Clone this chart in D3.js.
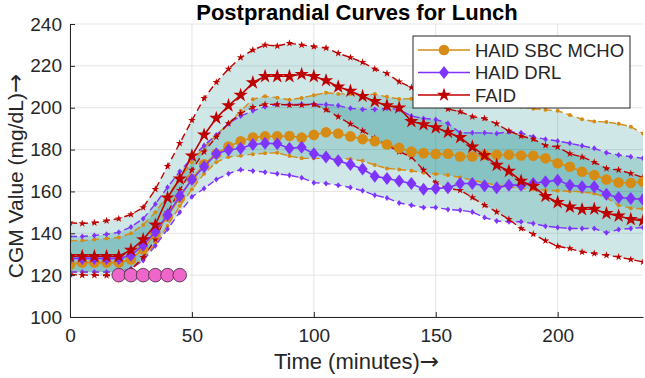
<!doctype html>
<html>
  <head>
    <script src="https://d3js.org/d3.v7.min.js"></script>
    <style>
      body { margin: 0; background: #fff; }
    </style>
  </head>
  <body>
    <script>
// time points (minutes)
var times = [0, 5, 10, 15, 20, 25, 30, 35, 40, 45, 50, 55, 60, 65, 70, 75, 80, 85, 90, 95,
  100, 105, 110, 115, 120, 125, 130, 135, 140, 145, 150, 155, 160, 165, 170, 175, 180, 185, 190, 195,
  200, 205, 210, 215, 220, 225, 230, 235];

// HAID SBC MCHO
var sbcMean = [125, 126, 126, 126, 126, 127.5, 132.5, 140, 148, 157, 166, 173, 178, 181.5, 184, 185.8, 186.3, 186.4, 186.5, 185.7,
  187, 188.3, 187.7, 186.3, 185, 184, 182.4, 180.8, 179, 178.3, 177.9, 178, 176.7, 176.7, 177.4, 177.5, 177.5, 177.2, 177, 175.8,
  173.5, 171.8, 169.4, 167.8, 165.7, 164.3, 164, 164.6];
var sbcUpper = [136.5, 136.5, 137, 137.5, 138, 140, 144, 150, 158, 166, 174, 181, 187, 192.5, 198.5, 204, 205.5, 204.8, 203.8, 204.7,
  206, 207.2, 206.6, 206.6, 206, 206.5, 205.2, 204.2, 204.3, 204.5, 204.5, 204.8, 205, 205, 204, 203, 202, 200.5, 199.5, 199,
  198.5, 196.5, 194.5, 193.4, 193.2, 192.3, 190.9, 187.7];
var sbcLower = [121.5, 121.5, 121.5, 121.5, 121.5, 123, 128, 135, 143.5, 153, 161, 168.5, 174, 176.5, 177, 177.8, 178.2, 178.5, 176.9, 175.8,
  175.8, 175.8, 175.8, 175.5, 174.6, 172.6, 171, 170.5, 169.9, 168.9, 168.3, 167.8, 166.7, 165.4, 164.1, 163, 162.2, 161.4, 161, 160.6,
  160.3, 160.1, 159.8, 159, 157, 153.4, 152, 151.7];

// HAID DRL
var drlMean = [128, 128, 128, 128, 128, 129.5, 134.3, 140.7, 148.7, 157.8, 165.7, 171.8, 178, 179.8, 180.6, 182.4, 183, 182.8, 180.6, 181.1,
  178, 176.4, 174.6, 172.9, 170.7, 167.3, 166.2, 165, 163.8, 161.1, 161.4, 161.8, 163.8, 163.8, 162.7, 161.7, 163, 163, 163.8, 164.6,
  165.4, 163, 162.2, 162.2, 158.7, 157.1, 156.6, 156.2];
var drlUpper = [138.5, 138.5, 139, 139.5, 140.5, 143, 147, 154, 162, 169.5, 176, 182, 187, 192.5, 196, 198.5, 200.5, 201.5, 201.5, 201.6,
  201.6, 201.5, 201, 199.7, 199.2, 199.2, 199.7, 199.2, 196, 194.9, 194.4, 192.5, 188, 188, 188, 187.7, 188.5, 188, 186.1, 184.9,
  184.1, 183, 181.8, 180.6, 178.5, 177.4, 176.6, 175.8];
var drlLower = [121.5, 121.5, 121.5, 121.5, 121.5, 123, 127, 134, 142, 150, 157.4, 161.4, 165.7, 168.5, 170.4, 169.8, 169.2, 168.4, 167.7, 166.5,
  164.2, 163.8, 163, 161.9, 160.3, 158.2, 156.9, 154.5, 153.4, 152.3, 152.3, 151.4, 151, 150.2, 147.5, 145.9, 145.5, 145.5, 144.7, 143.4,
  142.8, 142.3, 142.3, 142.3, 140.2, 141.8, 142.3, 142.8];

// FAID
var faidMean = [129, 129, 129, 129, 129, 132, 137, 144, 157, 166, 177, 187, 195, 201, 206, 212, 215, 215, 215, 216,
  215, 213, 210, 208, 205.5, 203, 201, 200, 193.5, 192, 190.5, 188.3, 185.8, 181.3, 177.2, 172.6, 169.7, 165, 162.5, 157.7,
  154.8, 152.6, 151.4, 151.6, 149.5, 148.3, 146.7, 146];
var faidUpper = [145, 144.7, 145, 146, 147, 149, 152.3, 161, 172, 183, 194, 204.5, 212.2, 218.5, 224, 227.6, 230, 229.5, 230.8, 230,
  229.2, 228.5, 226, 224, 221.7, 218.5, 216.4, 212.4, 209.7, 205.3, 201.8, 199.4, 198.1, 195.7, 194.9, 192.3, 188.9, 186.5, 185, 182,
  181.3, 178, 176.5, 174, 171, 170.2, 168.6, 166.7];
var faidLower = [120.3, 120, 120, 119.8, 120, 122.5, 128.5, 137, 150, 160.6, 170.2, 179, 186, 192.5, 197.3, 200.2, 201.6, 201.6, 201.3, 201.3,
  201.6, 199, 195.7, 192.2, 189, 185.4, 182.2, 179, 176.5, 170.2, 164.1, 161.4, 160.6, 157.1, 153.4, 150.2, 146.7, 142.3, 139.6, 136.4,
  133.8, 132.7, 131.1, 130.3, 129.5, 128.7, 127.5, 126.3];

// meal intake markers
var mealTimes = [20, 25, 30, 35, 40, 45];
var mealValue = 120;

var xTicks = [0, 50, 100, 150, 200];
var yTicks = [100, 120, 140, 160, 180, 200, 220, 240];
var seriesNames = ["HAID SBC MCHO", "HAID DRL", "FAID"];

    var width = 645;
    var height = 378;
    var margin = {top: 24, right: 2, bottom: 61, left: 70};
    var innerWidth = width - margin.left - margin.right;
    var innerHeight = height - margin.top - margin.bottom;
    var font = "Liberation Sans, Arial, sans-serif";
    var ink = "#262626";

    var svg = d3.select("body")
              .append("svg")
              .attr("width", width)
              .attr("height", height);

    var g = svg.append("g")
              .attr("transform", "translate(" + margin.left + "," + margin.top + ")");

    var xScale = d3.scaleLinear().domain([0, 235]).range([0, innerWidth]);
    var yScale = d3.scaleLinear().domain([100, 240]).range([innerHeight, 0]);

    svg.append("defs").append("clipPath").attr("id", "plotclip")
      .append("rect").attr("width", innerWidth).attr("height", innerHeight);

//grid
    g.selectAll(".xgrid").data(xTicks).enter().append("line")
      .attr("x1", function(d) {return xScale(d);}).attr("x2", function(d) {return xScale(d);})
      .attr("y1", 0).attr("y2", innerHeight)
      .attr("stroke", "#dedede").attr("stroke-width", 0.8);
    g.selectAll(".ygrid").data(yTicks).enter().append("line")
      .attr("x1", 0).attr("x2", innerWidth)
      .attr("y1", function(d) {return yScale(d);}).attr("y2", function(d) {return yScale(d);})
      .attr("stroke", "#dedede").attr("stroke-width", 0.8);

    var series = [
      {name: seriesNames[0], mean: sbcMean, upper: sbcUpper, lower: sbcLower, color: "#d68c14", marker: "circle"},
      {name: seriesNames[1], mean: drlMean, upper: drlUpper, lower: drlLower, color: "#7f33ff", marker: "diamond"},
      {name: seriesNames[2], mean: faidMean, upper: faidUpper, lower: faidLower, color: "#bf0000", marker: "star"}
    ];

//shaded bands
    var plot = g.append("g").attr("clip-path", "url(#plotclip)");

    var area = d3.area()
                .x(function(d, i) {return xScale(times[i]);})
                .y0(function(d) {return yScale(d[0]);})
                .y1(function(d) {return yScale(d[1]);})
                .curve(d3.curveBasis);

    series.forEach(function(s) {
      var band = s.lower.map(function(v, i) {return [v, s.upper[i]];});
      plot.append("path")
        .attr("d", area(band))
        .attr("fill", "#008080")
        .attr("fill-opacity", 0.19);
    });

    var line = d3.line()
                .x(function(d, i) {return xScale(times[i]);})
                .y(function(d) {return yScale(d);});

    function markerPath(type, r) {
      if (type == "circle") return d3.symbol().type(d3.symbolCircle).size(Math.PI * r * r)();
      if (type == "star") return d3.symbol().type(d3.symbolStar).size(r * r / 0.8908130915292852)();
      var w = r * 0.78;
      return "M0," + (-r) + "L" + w + ",0L0," + r + "L" + (-w) + ",0Z";
    }

    function drawMarkers(parent, values, s, r) {
      parent.selectAll(null).data(values).enter().append("path")
        .attr("d", markerPath(s.marker, r))
        .attr("transform", function(d, i) {return "translate(" + xScale(times[i]) + "," + yScale(d) + ")";})
        .attr("fill", s.color);
    }

//dashed bound lines
    series.forEach(function(s) {
      [s.upper, s.lower].forEach(function(vals) {
        plot.append("path")
          .attr("d", line(vals))
          .attr("fill", "none")
          .attr("stroke", s.color)
          .attr("stroke-width", 1.4)
          .attr("stroke-dasharray", "7,4");
        var small = s.marker == "star" ? 4 : (s.marker == "circle" ? 2 : 3);
        drawMarkers(plot.append("g"), vals, s, small);
      });
    });

//mean curves
    series.forEach(function(s) {
      plot.append("path")
        .attr("d", line(s.mean))
        .attr("fill", "none")
        .attr("stroke", s.color)
        .attr("stroke-width", 1.6);
      var big = s.marker == "star" ? 7.5 : (s.marker == "circle" ? 5.3 : 6.5);
      drawMarkers(plot.append("g"), s.mean, s, big);
    });

//meal markers
    plot.selectAll(".meal").data(mealTimes).enter().append("circle")
      .attr("cx", function(d) {return xScale(d);})
      .attr("cy", yScale(mealValue))
      .attr("r", 6.8)
      .attr("fill", "#ef66cb")
      .attr("stroke", "#3d2a3a")
      .attr("stroke-width", 0.8);

//axes
    var xAxis = d3.axisBottom(xScale).tickValues(xTicks).tickSize(-5).tickSizeOuter(0).tickPadding(12);
    var yAxis = d3.axisLeft(yScale).tickValues(yTicks).tickSize(-5).tickSizeOuter(0).tickPadding(8);

    var gx = g.append("g").attr("transform", "translate(0," + innerHeight + ")").call(xAxis);
    var gy = g.append("g").call(yAxis);

    [gx, gy].forEach(function(a) {
      a.attr("font-size", 19).attr("font-family", font);
      a.select(".domain").attr("stroke", ink).attr("stroke-width", 1);
      a.selectAll(".tick line").attr("stroke", ink);
      a.selectAll(".tick text").attr("fill", ink);
    });

    var xLabel = svg.append("text")
      .attr("x", margin.left + innerWidth / 2)
      .attr("y", 369)
      .attr("text-anchor", "middle")
      .attr("font-family", font)
      .attr("font-size", 22)
      .attr("fill", ink)
      .text("Time (minutes)");
    xLabel.append("tspan")
      .attr("font-family", "DejaVu Sans, sans-serif")
      .attr("font-size", 23)
      .text("\u2192");

    var yLabel = svg.append("text")
      .attr("transform", "translate(23," + 176 + ") rotate(-90)")
      .attr("text-anchor", "middle")
      .attr("font-family", font)
      .attr("font-size", 21)
      .attr("fill", ink)
      .text("CGM Value (mg/dL)");
    yLabel.append("tspan")
      .attr("font-family", "DejaVu Sans, sans-serif")
      .attr("font-size", 23)
      .text("\u2192");

    svg.append("text")
      .attr("x", 357)
      .attr("y", 20)
      .attr("text-anchor", "middle")
      .attr("font-family", font)
      .attr("font-weight", "bold")
      .attr("font-size", 22)
      .attr("fill", "#000")
      .text("Postprandial Curves for Lunch");

//legend
    var legend = svg.append("g").attr("transform", "translate(413,36)");
    legend.append("rect")
      .attr("width", 217).attr("height", 72)
      .attr("fill", "#fff").attr("stroke", ink).attr("stroke-width", 1);

    series.forEach(function(s, i) {
      var row = legend.append("g").attr("transform", "translate(0," + (14 + i * 22.5) + ")");
      row.append("line")
        .attr("x1", 5).attr("x2", 57).attr("y1", 0).attr("y2", 0)
        .attr("stroke", s.color).attr("stroke-width", 1.6);
      row.append("path")
        .attr("d", markerPath(s.marker, s.marker == "star" ? 7.5 : (s.marker == "circle" ? 5.3 : 6.5)))
        .attr("transform", "translate(31,0)")
        .attr("fill", s.color);
      row.append("text")
        .attr("x", 62).attr("y", 6.5)
        .attr("font-family", font)
        .attr("font-size", 18.5)
        .attr("fill", ink)
        .text(s.name);
    });
    </script>
  </body>
</html>
